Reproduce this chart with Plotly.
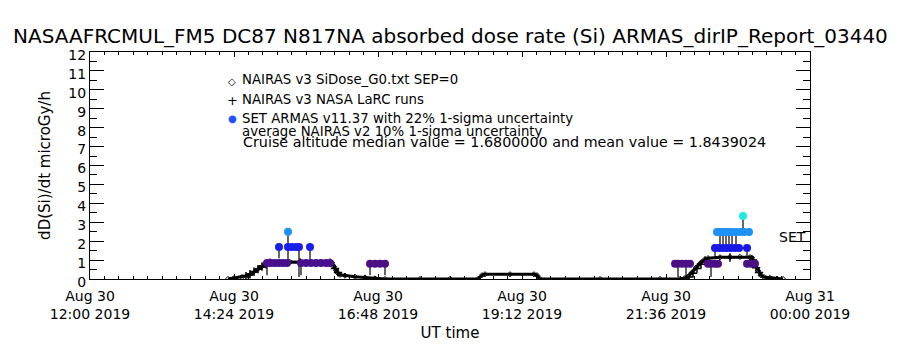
import plotly.graph_objects as go

DAY = "2019-08-30 "
FONT = "DejaVu Sans"

# NAIRAS v3 SiDose_G0 (diamonds)
nairas_t = ["14:18", "14:24", "14:32", "14:38", "14:42", "14:46", "14:50", "14:54", "14:58",
            "15:02", "15:10", "15:20", "15:30", "15:40", "15:50", "16:00", "16:02", "16:04",
            "16:06", "16:08", "16:10", "16:15", "16:25", "16:35", "16:45", "16:55", "17:30",
            "18:00", "18:28", "18:32", "18:35", "19:00", "19:24", "19:27", "19:30", "20:30",
            "21:30", "21:50", "21:55", "21:58", "22:02", "22:06", "22:10", "22:14", "22:18",
            "22:30", "22:40", "22:50", "23:00", "23:02", "23:05", "23:08", "23:11", "23:14",
            "23:20", "23:27", "23:33"]
nairas_v = [0.0, 0.05, 0.10, 0.18, 0.30, 0.45, 0.60, 0.72, 0.82,
            0.88, 0.90, 0.90, 0.91, 0.90, 0.88, 0.88, 0.85, 0.65,
            0.45, 0.30, 0.22, 0.18, 0.12, 0.08, 0.03, 0.0, 0.0,
            0.0, 0.0, 0.20, 0.25, 0.25, 0.25, 0.20, 0.0, 0.0,
            0.0, 0.0, 0.05, 0.12, 0.35, 0.60, 0.82, 1.00, 1.10,
            1.15, 1.16, 1.17, 1.15, 1.12, 0.80, 0.45, 0.20, 0.10,
            0.06, 0.02, 0.0]

# NAIRAS v3 NASA LaRC runs (plus)
larc_t = ["14:36", "14:40", "14:44", "14:48", "14:52", "14:56", "15:00", "15:30", "16:00",
          "16:05", "16:08", "21:59", "22:03", "22:07", "22:11", "22:15", "22:40", "23:03",
          "23:06", "23:09"]
larc_v = [0.15, 0.25, 0.38, 0.52, 0.66, 0.78, 0.86, 0.88, 0.86,
          0.55, 0.35, 0.10, 0.30, 0.55, 0.78, 0.98, 1.14, 1.00,
          0.60, 0.35]

# SET ARMAS v11.37 measurements with lower uncertainty ends
armas_t = ["14:57", "15:01", "15:05", "15:09", "15:13", "15:17",
           "15:31", "15:36", "15:41", "15:46", "15:51", "15:56", "16:00",
           "16:40", "16:45", "16:50", "16:55",
           "15:09", "15:18", "15:22", "15:26", "15:29", "15:40",
           "15:18",
           "21:45", "21:48", "21:52", "21:56", "22:00",
           "22:18", "22:21", "22:25", "22:28",
           "22:57", "23:01", "23:05",
           "22:25", "22:29", "22:33", "22:37", "22:41", "22:45", "22:49", "22:57",
           "22:27", "22:30", "22:33", "22:36", "22:39", "22:42", "22:46", "22:50", "22:54", "22:59",
           "22:53"]
armas_v = [0.85, 0.85, 0.85, 0.85, 0.85, 0.85,
           0.85, 0.85, 0.85, 0.85, 0.85, 0.85, 0.85,
           0.80, 0.80, 0.80, 0.80,
           1.69, 1.69, 1.69, 1.69, 1.69, 1.69,
           2.50,
           0.80, 0.80, 0.80, 0.80, 0.80,
           0.80, 0.80, 0.80, 0.80,
           0.80, 0.80, 0.80,
           1.64, 1.64, 1.64, 1.64, 1.64, 1.64, 1.64, 1.64,
           2.49, 2.49, 2.49, 2.49, 2.49, 2.49, 2.49, 2.49, 2.49, 2.49,
           3.33]
armas_lo = [0.20, 0.85, 0.85, 0.85, 0.85, 0.85,
            0.20, 0.85, 0.85, 0.85, 0.85, 0.85, 0.85,
            0.20, 0.80, 0.80, 0.20,
            1.10, 0.90, 1.69, 1.69, 0.10, 1.05,
            1.70,
            0.80, 0.10, 0.80, 0.10, 0.80,
            0.80, 0.10, 0.80, 0.80,
            0.80, 0.80, 0.80,
            1.10, 1.64, 1.64, 1.64, 1.64, 1.64, 1.64, 1.20,
            2.49, 1.70, 1.70, 1.70, 1.70, 1.70, 1.70, 2.49, 2.49, 2.49,
            2.50]

tick_times = ["2019-08-30 12:00", "2019-08-30 14:24", "2019-08-30 16:48",
              "2019-08-30 19:12", "2019-08-30 21:36", "2019-08-31 00:00"]
tick_text = ["Aug 30<br>12:00 2019", "Aug 30<br>14:24 2019", "Aug 30<br>16:48 2019",
             "Aug 30<br>19:12 2019", "Aug 30<br>21:36 2019", "Aug 31<br>00:00 2019"]

title = "NASAAFRCMUL_FM5 DC87 N817NA absorbed dose rate (Si) ARMAS_dirIP_Report_03440"
legend_lines = ["NAIRAS v3 SiDose_G0.txt SEP=0", "NAIRAS v3 NASA LaRC runs",
                "SET ARMAS v11.37 with 22% 1-sigma uncertainty",
                "average NAIRAS v2 10% 1-sigma uncertainty"]
stats_line = "Cruise altitude median value = 1.6800000 and mean value = 1.8439024"

L, R, T, B = 90, 810, 52, 279
W, H = 900, 350


def px(x):
    return (x - L) / (R - L)


def py(y):
    return (B - y) / (B - T)


fig = go.Figure()
fig.add_trace(go.Scatter(
    x=[DAY + t for t in nairas_t], y=nairas_v, mode="lines+markers",
    line=dict(color="black", width=3),
    marker=dict(symbol="diamond-open", size=4, color="black", line=dict(width=1)),
    showlegend=False))
fig.add_trace(go.Scatter(
    x=[DAY + t for t in larc_t], y=larc_v, mode="markers",
    marker=dict(symbol="cross-thin-open", size=6, color="black", line=dict(width=1.5, color="black")),
    showlegend=False))
fig.add_trace(go.Scatter(
    x=[DAY + t for t in armas_t], y=armas_v, mode="markers",
    marker=dict(symbol="circle", size=8, color=armas_v, cmin=0, cmax=4,
                colorscale=[[0, "#300060"], [0.2, "#4b0f86"], [0.41, "#1818e8"],
                            [0.62, "#1e90f5"], [0.83, "#20e8e0"], [1, "#40ff80"]],
                line=dict(width=0)),
    error_y=dict(type="data", symmetric=False, array=[0] * len(armas_v),
                 arrayminus=[v - lo for v, lo in zip(armas_v, armas_lo)],
                 color="black", thickness=1.2, width=0),
    showlegend=False))

ann = []
ann.append(dict(text=title, x=0.5, y=py(36), xref="paper", yref="paper",
                xanchor="center", yanchor="middle", showarrow=False,
                font=dict(size=20, family=FONT, color="black")))
sym = ["◇", "+", "●"]
sym_col = ["black", "black", "#1e50ff"]
ys = [80, 99, 118]
for s, c, y, txt in zip(sym, sym_col, ys, legend_lines[:3]):
    ann.append(dict(text=s, x=px(232), y=py(y + 1), xref="paper", yref="paper",
                    xanchor="center", yanchor="middle", showarrow=False,
                    font=dict(size=10 if s != "+" else 13, family=FONT, color=c)))
    ann.append(dict(text=txt, x=px(240), y=py(y), xref="paper", yref="paper",
                    xanchor="left", yanchor="middle", showarrow=False,
                    font=dict(size=13.3, family=FONT, color="black")))
ann.append(dict(text=legend_lines[3], x=px(240), y=py(131), xref="paper", yref="paper",
                xanchor="left", yanchor="middle", showarrow=False,
                font=dict(size=13.3, family=FONT, color="black")))
ann.append(dict(text=stats_line, x=px(241), y=py(142), xref="paper", yref="paper",
                xanchor="left", yanchor="middle", showarrow=False,
                font=dict(size=14.3, family=FONT, color="black")))
ann.append(dict(text="SET", x=px(808), y=py(237), xref="paper", yref="paper",
                xanchor="right", yanchor="middle", showarrow=False,
                font=dict(size=14, family=FONT, color="black")))

fig.update_layout(
    width=W, height=H, margin=dict(l=L, r=W - R, t=T, b=H - B, pad=0),
    paper_bgcolor="white", plot_bgcolor="white",
    font=dict(family=FONT, color="black", size=14),
    annotations=ann, showlegend=False,
    xaxis=dict(type="date", range=["2019-08-30 12:00", "2019-08-31 00:00"],
               tickvals=tick_times, ticktext=tick_text, tickangle=0,
               showline=True, linecolor="black", linewidth=1, mirror="ticks",
               ticks="inside", ticklen=5, tickcolor="black", showgrid=False, zeroline=False,
               tickfont=dict(size=14, family=FONT), ticklabelstandoff=4,
               minor=dict(ticks="inside", ticklen=3, dtick=14.4 * 60 * 1000,
                          tick0="2019-08-30 12:00", tickcolor="black", showgrid=False),
               title=dict(text="UT time", font=dict(size=15, family=FONT), standoff=6)),
    yaxis=dict(range=[0, 12], tickvals=list(range(13)),
               showline=True, linecolor="black", linewidth=1, mirror="ticks",
               ticks="inside", ticklen=14, tickcolor="black", showgrid=False, zeroline=False,
               tickfont=dict(size=14, family=FONT), ticklabelshift=3,
               minor=dict(ticks="inside", ticklen=7, dtick=0.5, tickcolor="black", showgrid=False),
               title=dict(text="dD(Si)/dt microGy/h", font=dict(size=15, family=FONT), standoff=14)),
)

fig.write_html("out.html")
